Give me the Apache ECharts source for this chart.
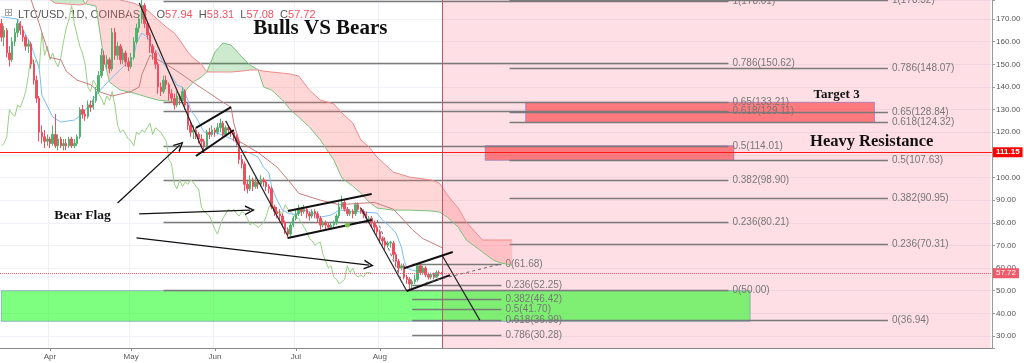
<!DOCTYPE html>
<html><head><meta charset="utf-8">
<script src="https://cdn.jsdelivr.net/npm/echarts@6/dist/echarts.min.js"></script>
<style>html,body{margin:0;padding:0;background:#fff}#c{width:1024px;height:363px}</style>
</head><body><div id="c"></div>
<script>
// ---------- DATA ----------
const startDate = '2018-03-14';
const dayCount = 367;
const monthNames = ['Jan','Feb','Mar','Apr','May','Jun','Jul','Aug','Sep','Oct','Nov','Dec'];
// daily candles from 2018-03-14: [open, close, low, high]
const candles = [
[168,162,160,170],[162,165,158,167],[165,155,153,166],[155,152,149,158],[152,160,151,162],
[160,164,158,166],[164,168,162,170],[168,165,163,169],[165,162,160,167],[162,158,156,163],
[158,159,155,161],[159,150,148,160],[150,143,141,152],[143,135,133,145],[135,120,116,136],
[120,118,115,123],[118,116,113,121],[116,117,114,119],[117,115,113,118],[115,119,114,123],
[119,114,113,128],[114,117,112,119],[117,114,113,118],[114,115,112,117],[115,114,112,117],
[114,117,113,118],[117,114,113,118],[114,115,113,117],[115,118,114,119],[118,130,117,131],
[130,128,126,132],[128,127,125,130],[127,132,126,134],[132,131,129,134],[131,134,130,136],
[134,138,133,140],[138,145,137,147],[145,154,144,157],[154,150,147,156],[150,152,148,154],
[152,148,146,153],[148,164,147,166],[164,154,152,166],[154,158,152,160],[158,152,150,159],
[152,155,150,157],[155,151,149,156],[151,149,147,153],[149,153,148,155],[153,160,152,162],
[160,166,159,168],[166,170,164,172],[170,176,168,179],[176,168,166,177],[168,163,161,169],
[163,158,155,164],[158,155,152,159],[155,150,148,156],[150,140,137,151],[140,138,136,142],
[138,143,137,145],[143,141,139,145],[141,137,134,142],[137,135,133,139],[135,132,130,137],
[132,136,131,138],[136,134,132,137],[134,138,133,140],[138,132,130,139],[132,123,121,133],
[123,120,118,125],[120,121,117,123],[121,119,117,122],[119,117,115,120],[117,116,114,119],
[116,114,112,117],[114,120,113,121],[120,119,117,122],[119,121,118,123],[121,120,118,122],
[120,122,119,124],[122,124,120,126],[124,119,118,125],[119,122,118,123],[122,121,119,123],
[121,120,118,122],[120,118,116,121],[118,116,114,119],[116,108,106,117],[108,106,104,110],
[106,97,94,107],[97,95,93,99],[95,99,94,101],[99,96,94,100],[96,98,95,100],
[98,97,95,99],[97,99,96,101],[99,98,96,100],[98,96,94,99],[96,95,93,97],
[95,87,86,96],[87,85,83,88],[85,84,82,87],[84,83,81,86],[83,80,78,84],
[80,77,75,81],[77,75,73,78],[75,79,74,80],[79,82,78,83],[82,84,81,86],
[84,86,83,88],[86,85,83,87],[85,86,84,88],[86,84,82,87],[84,83,81,85],
[83,85,82,86],[85,84,82,86],[84,82,80,85],[82,79,77,83],[79,80,78,81],
[80,79,77,81],[79,78,77,80],[78,79,77,80],[79,80,78,81],[80,83,79,84],
[83,87,82,89],[87,89,86,92],[89,86,85,90],[86,84,83,87],[84,85,83,86],
[85,84,82,86],[84,88,83,89],[88,86,85,89],[86,85,84,87],[85,84,82,86],
[84,82,80,85],[82,82,80,83],[82,80,78,83],[80,78,76,81],[78,76,74,79],
[76,73,71,77],[73,72,70,74],[72,70,68,73],[70,71,69,72],[71,71.5,69,72],
[71,66,64,72],[66,63,61,67],[63,60,58,64],[60,61,59,62],[61,56,55,62],
[56,55,53,57],[55,53,50.5,56],[53,54,51,55],[54,55,53,57],[55,61,54,62],
[61,58,57,62],[58,60,57,61],[60,57,56,61],[57,56,55,58],[56,57,55,58],
[57,56,55,58],[56,58,55.5,59],[58,57.94,56.5,59],[57.94,57.72,57.08,58.31]
];
// Ichimoku conversion line (blue)
const tenkan = [['2018-03-14',171],['2018-03-20',170],['2018-03-25',158.5],['2018-03-28',148.4],['2018-03-29',136.4],
['2018-04-02',126.7],['2018-04-05',124.5],['2018-04-10',125.4],['2018-04-13',128],['2018-04-16',133],['2018-04-19',137.8],
['2018-04-23',143],['2018-04-28',148.8],['2018-05-02',153.2],['2018-05-03',159.4],['2018-05-05',163.8],['2018-05-07',162],
['2018-05-09',157.6],['2018-05-11',155],['2018-05-13',150.6],['2018-05-15',146.6],['2018-05-17',143],['2018-05-18',140.8],
['2018-05-20',140],['2018-05-22',134.2],['2018-05-23',129.8],['2018-05-25',126.7],['2018-05-27',122.3],['2018-05-28',120],
['2018-06-02',119.6],['2018-06-08',116.6],['2018-06-11',112],['2018-06-14',110.8],['2018-06-17',109],['2018-06-19',104.6],
['2018-06-21',102],['2018-06-22',95.8],['2018-06-24',90],['2018-06-26',85.6],['2018-06-28',84.3],['2018-07-01',83.4],
['2018-07-04',85.6],['2018-07-07',84.3],['2018-07-10',82.5],['2018-07-14',83.4],['2018-07-17',85.6],['2018-07-25',84.8],
['2018-07-31',84.3],['2018-08-02',81.2],['2018-08-05',78.1],['2018-08-07',75.5],['2018-08-09',69.3],['2018-08-10',63.5],
['2018-08-11',60],['2018-08-13',59.1],['2018-08-16',58.2],['2018-08-20',56.9],['2018-08-24',57.8]];
// Ichimoku base line (dark red)
const kijun = [['2018-03-24',182],['2018-03-28',168],['2018-03-29',164],['2018-04-01',153],['2018-04-05',152],['2018-04-07',147],
['2018-04-11',143],['2018-04-16',141],['2018-04-19',138],['2018-04-24',136],['2018-05-01',138],['2018-05-04',140],['2018-05-05',145.5],
['2018-05-08',154],['2018-05-14',150],['2018-05-18',147],['2018-05-24',142],['2018-05-29',138],['2018-06-03',134],['2018-06-07',131],
['2018-06-08',124],['2018-06-10',116],['2018-06-17',111],['2018-06-24',104.6],['2018-06-29',97.6],['2018-07-02',93],['2018-07-10',90],
['2018-07-17',88],['2018-07-30',89],['2018-08-06',86],['2018-08-10',81],['2018-08-13',77],['2018-08-17',73],['2018-08-24',69]];
// Ichimoku cloud: leading span A (green) and B (red)
const cloudDates = ['2018-03-31','2018-04-03','2018-04-12','2018-04-14','2018-04-18','2018-04-21','2018-04-23','2018-04-27',
'2018-05-02','2018-05-07','2018-05-11','2018-05-14','2018-05-17','2018-05-19','2018-05-22','2018-05-24','2018-05-27','2018-05-29',
'2018-06-01','2018-06-04','2018-06-07','2018-06-11','2018-06-14','2018-06-17','2018-06-19','2018-06-22','2018-06-26','2018-06-29',
'2018-07-02','2018-07-06','2018-07-10','2018-07-15','2018-07-18','2018-07-22','2018-07-25','2018-07-28','2018-07-31','2018-08-06',
'2018-08-12','2018-08-20','2018-08-23','2018-08-26','2018-08-30','2018-09-02','2018-09-07','2018-09-08','2018-09-12','2018-09-15','2018-09-19'];
const spanA = [183,183,181,176.7,175.7,151.9,142.2,138.6,137.3,135.5,134.2,133.8,133.3,135.1,139.5,142.2,144.4,146.6,
155.4,159.4,158.5,153.2,149.7,147.5,140,138.6,134.2,129.8,126.7,122.3,116.6,107.7,99.8,96.2,93.1,89.2,86.5,85.6,
85.6,85.2,84.8,82.5,78.1,72.4,68,67.1,63.5,62.2,61.3];
const spanB = [179.3,177,176.2,176.7,183,183,181,178.4,177,174,169.6,166.5,163.8,160.7,155.4,152.8,150.1,146.6,
146.6,146.6,146.6,147,147.5,147.5,147,146.6,146.1,145.7,144.8,138.6,134.2,132.5,128.5,124.1,116.6,113.5,109,102.4,
100.2,98.9,97.6,92.3,86.5,80.3,73.7,72.4,72.4,72.4,72.4];
const laggingShift = 26;
// Fibonacci retracements
const fibRatios = [1,0.786,0.65,0.618,0.5,0.382,0.236,0];
const fibAPrices = [178.01,150.62,133.21,129.11,114.01,98.90,80.21,50.00];
const fibARange = ['2018-05-13','2018-12-08'];
const fibBPrices = [178.32,148.07,128.84,124.32,107.63,90.95,70.31,36.94];
const fibBRange = ['2018-09-18','2019-02-05'];
const fibCRatios = [0,0.236,0.382,0.5,0.618,0.786];
const fibCPrices = [61.68,52.25,46.42,41.70,36.99,30.28];
const fibCRange = ['2018-08-13','2018-09-15'];
// zones
const forecastZone = ['2018-08-24','2019-03-15'];
const supportZone = [['2018-03-14',50],['2018-12-16',36.5]];
const resistanceZones = [
  [['2018-09-24',133.21],['2019-01-31',124.32]],
  [['2018-09-09',114.01],['2018-12-10',107.63]]
];
const resistanceLevel = 111.15;
const lastPrice = 57.72;
const ohlc = {O:'57.94',H:'58.31',L:'57.08',C:'57.72'};
// drawn trend lines
const trendLines = [
  [['2018-05-04',177.1],['2018-05-28',110.8]],
  [['2018-06-05',125],['2018-06-28',74.2]],
  [['2018-07-25',86.5],['2018-08-11',49.9]],
  [['2018-08-24',65.8],['2018-09-07',37]]
];
const flagLines = [
  [['2018-05-25',121.9],['2018-06-07',131.1]],
  [['2018-05-25',109.5],['2018-06-08',121]],
  [['2018-06-28',85.2],['2018-07-29',92.7]],
  [['2018-06-28',73.3],['2018-07-29',81.2]],
  [['2018-08-11',49.9],['2018-08-27',56.9]],
  [['2018-08-10',59.9],['2018-08-28',67.1]]
];
const dashedLines = [
  [['2018-07-31',81.2],['2018-08-10',51.6]],
  [['2018-08-18',53.5],['2018-09-15',61.9]]
];
const arrows = [
  [['2018-04-26',88.7],['2018-05-19',114.3]],
  [['2018-05-04',83.9],['2018-06-14',85.6]],
  [['2018-05-03',73.3],['2018-07-28',61.3]]
];
const anchorDot = ['2018-07-20',79];
const notes = [
  {text:'Bulls VS Bears', at:['2018-07-10',165.6], size:21},
  {text:'Target 3', at:['2019-01-17',136.4], size:13},
  {text:'Heavy Resistance', at:['2019-01-30',115.7], size:16.5},
  {text:'Bear Flag', at:['2018-04-13',83.4], size:13.5}
];

// ---------- BUILD ----------
const cats = [];
const t0 = Date.parse(startDate + 'T00:00:00Z');
for (let i = 0; i < dayCount; i++) cats.push(new Date(t0 + i * 86400000).toISOString().slice(0, 10));
const isMonthMark = (i, v) => v.slice(8) === '01' && v >= '2018-04-01' && v <= '2018-08-01';
const closes = candles.map(r => r[1]);
const chikou = closes.slice(laggingShift).map((c, i) => [cats[i], c]);
const cloudIdx = cloudDates.map(d => cats.indexOf(d));

const PINK = 'rgba(255,110,110,0.28)', GREEN = 'rgba(60,170,60,0.25)';
function cloudRender(params, api) {
  if (params.dataIndex !== 0) return null;
  const children = [];
  let i = 0;
  const n = cloudDates.length;
  while (i < n - 1) {
    const up = (spanA[i] + spanA[i + 1]) >= (spanB[i] + spanB[i + 1]);
    let j = i;
    while (j < n - 1 && ((spanA[j] + spanA[j + 1]) >= (spanB[j] + spanB[j + 1])) === up) j++;
    const pts = [];
    for (let k = i; k <= j; k++) pts.push(api.coord([cloudIdx[k], spanA[k]]));
    for (let k = j; k >= i; k--) pts.push(api.coord([cloudIdx[k], spanB[k]]));
    children.push({type: 'polygon', shape: {points: pts}, style: {fill: up ? GREEN : PINK}, silent: true});
    i = j;
  }
  return {type: 'group', children};
}

function fibData(ratios, prices, range) {
  return ratios.map((r, i) => [
    {coord: [range[0], prices[i]], label: {formatter: r + '(' + prices[i].toFixed(2) + ')'}},
    {coord: [range[1], prices[i]]}
  ]);
}
const segs = arr => arr.map(s => [{coord: s[0]}, {coord: s[1]}]);
const ARROW = 'path://M0,10 L5,0 L10,10 L8.4,10 L5,3.2 L1.6,10 Z';
const fibLabel = {show: true, position: 'end', distance: 4, color: '#777', fontSize: 10, fontFamily: 'Liberation Sans'};

const option = {
  animation: false,
  backgroundColor: '#fff',
  grid: {left: 0, right: 32, top: 0, bottom: 15},
  xAxis: {
    type: 'category', data: cats, boundaryGap: true,
    axisLine: {lineStyle: {color: '#8a8a8a'}},
    axisTick: {show: true, interval: isMonthMark, alignWithLabel: true, length: 3, lineStyle: {color: '#8a8a8a'}},
    axisLabel: {interval: isMonthMark, fontSize: 8, color: '#555', margin: 5, fontFamily: 'Liberation Sans',
      formatter: v => monthNames[+v.slice(5, 7) - 1]},
    splitLine: {show: true, interval: isMonthMark, lineStyle: {color: '#edf1f5'}}
  },
  yAxis: {
    type: 'value', position: 'right', min: 24.7, max: 178.4, splitNumber: 15,
    axisLine: {show: true, lineStyle: {color: '#9a9a9a'}},
    axisTick: {show: true, length: 3, lineStyle: {color: '#9a9a9a'}},
    axisLabel: {fontSize: 8, color: '#555', margin: 4, fontFamily: 'Liberation Sans',
      formatter: v => Math.abs(v / 10 - Math.round(v / 10)) < 1e-6 ? v.toFixed(2) : ''},
    splitLine: {lineStyle: {color: '#eef1f5'}}
  },
  graphic: [
    {type: 'text', left: 4, top: 8, style: {text: '\u229E', fill: '#999', fontSize: 11, fontFamily: 'DejaVu Sans'}},
    {type: 'text', left: 18, top: 9, style: {
      text: 'LTC/USD, 1D, COINBASE   {k|O}{v|' + ohlc.O + '}  {k|H}{v|' + ohlc.H + '}  {k|L}{v|' + ohlc.L + '}  {k|C}{v|' + ohlc.C + '}',
      fill: '#555', fontSize: 11, fontFamily: 'Liberation Sans',
      rich: {k: {fill: '#555', fontSize: 11, fontFamily: 'Liberation Sans'}, v: {fill: '#ef5362', fontSize: 11, fontFamily: 'Liberation Sans'}}
    }}
  ],
  series: [
    { // forecast zone
      type: 'line', data: [], silent: true,
      markArea: {silent: true, z: 1, itemStyle: {color: 'rgba(255,105,135,0.21)'},
        data: [[{xAxis: forecastZone[0]}, {xAxis: forecastZone[1]}]]}
    },
    { // support zone
      type: 'line', data: [], silent: true,
      markArea: {silent: true, z: 1, itemStyle: {color: 'rgba(0,255,0,0.5)', borderColor: 'rgba(120,150,190,0.7)', borderWidth: 1},
        data: [[{coord: supportZone[0]}, {coord: supportZone[1]}]]}
    },
    { // resistance zones
      type: 'line', data: [], silent: true,
      markArea: {silent: true, z: 1, itemStyle: {color: 'rgba(255,0,0,0.45)', borderColor: 'rgba(140,120,190,0.7)', borderWidth: 1},
        data: resistanceZones.map(z => [{coord: z[0]}, {coord: z[1]}])}
    },
    { // fib lines
      type: 'line', data: [], silent: true,
      markLine: {silent: true, z: 1, symbol: ['none', 'none'], animation: false,
        lineStyle: {color: '#7a7a7a', width: 1.4, type: 'solid'}, label: fibLabel, emphasis: {disabled: true},
        data: fibData(fibRatios, fibAPrices, fibARange).concat(fibData(fibRatios, fibBPrices, fibBRange), fibData(fibCRatios, fibCPrices, fibCRange))}
    },
    { // cloud fill
      type: 'custom', coordinateSystem: 'cartesian2d', silent: true, z: 2,
      data: cloudDates.map((d, i) => [cloudIdx[i], spanA[i], spanB[i]]),
      encode: {x: 0, y: [1, 2]}, renderItem: cloudRender
    },
    {type: 'line', data: cloudDates.map((d, i) => [d, spanA[i]]), showSymbol: false, silent: true, z: 3,
      lineStyle: {color: '#7cc27c', width: 1}},
    {type: 'line', data: cloudDates.map((d, i) => [d, spanB[i]]), showSymbol: false, silent: true, z: 3,
      lineStyle: {color: '#f08a8a', width: 1}},
    {type: 'line', data: chikou, showSymbol: false, silent: true, z: 3, lineStyle: {color: '#9ccf86', width: 1}},
    {type: 'line', data: kijun, showSymbol: false, silent: true, z: 3, lineStyle: {color: '#c87c7c', width: 1}},
    {type: 'line', data: tenkan, showSymbol: false, silent: true, z: 3, lineStyle: {color: '#7dbff2', width: 1}},
    {
      type: 'candlestick', data: candles.map(r => [r[0], r[1], r[2], r[3]]), barWidth: '72%', silent: true, z: 4,
      itemStyle: {color: '#4fb36f', color0: '#ec5060', borderColor: '#4fb36f', borderColor0: '#ec5060', borderWidth: 1}
    },
    { // price levels
      type: 'line', data: [], silent: true,
      markLine: {silent: true, symbol: ['none', 'none'], animation: false,
        data: [
          {yAxis: resistanceLevel, lineStyle: {color: '#ff1a1a', width: 1.2, type: 'solid'},
            label: {show: true, position: 'end', distance: 1, formatter: resistanceLevel.toFixed(2), backgroundColor: '#ff0000',
              color: '#fff', fontSize: 8, fontWeight: 'bold', padding: [1, 3], fontFamily: 'Liberation Sans'}},
          {yAxis: lastPrice, lineStyle: {color: '#f06070', width: 1, type: 'dotted'},
            label: {show: true, position: 'end', distance: 1, formatter: lastPrice.toFixed(2), backgroundColor: '#ee5a6a',
              color: '#fff', fontSize: 8, padding: [1, 3], fontFamily: 'Liberation Sans'}},
          {xAxis: forecastZone[0], lineStyle: {color: '#b85a6a', width: 1, type: 'solid'}, label: {show: false}}
        ]}
    },
    { // trend lines, flags
      type: 'line', data: [], silent: true,
      markLine: {silent: true, symbol: ['none', 'none'], animation: false, label: {show: false},
        data: segs(trendLines).map(d => { d[0].lineStyle = {color: '#222', width: 1.2, type: 'solid'}; return d; })
          .concat(segs(flagLines).map(d => { d[0].lineStyle = {color: '#111', width: 2, type: 'solid'}; return d; }))
          .concat(segs(dashedLines).map(d => { d[0].lineStyle = {color: '#666', width: 1, type: [3, 3]}; return d; }))}
    },
    { // arrows
      type: 'line', data: [], silent: true,
      markLine: {silent: true, animation: false, label: {show: false},
        symbol: ['none', ARROW], symbolSize: 10,
        lineStyle: {color: '#111', width: 1.3, type: 'solid'},
        data: arrows.map(s => [{coord: s[0], symbol: 'none'}, {coord: s[1], symbol: ARROW, symbolSize: 10}])}
    },
    { // texts and anchor dot
      type: 'line', data: [], silent: true,
      markPoint: {silent: true, animation: false,
        data: notes.map(n => ({name: n.text, coord: n.at, symbol: 'circle', symbolSize: 0,
          label: {show: true, position: 'inside', formatter: '{b}', color: '#111', fontSize: n.size, fontWeight: 'bold', fontFamily: 'Liberation Serif'}}))
          .concat([{name: '', coord: anchorDot, symbol: 'circle', symbolSize: 5, itemStyle: {color: '#7cc24a'}, label: {show: false}}])}
    }
  ]
};
const chart = echarts.init(document.getElementById('c'), null, {renderer: 'canvas'});
chart.setOption(option);
</script>
</body></html>
